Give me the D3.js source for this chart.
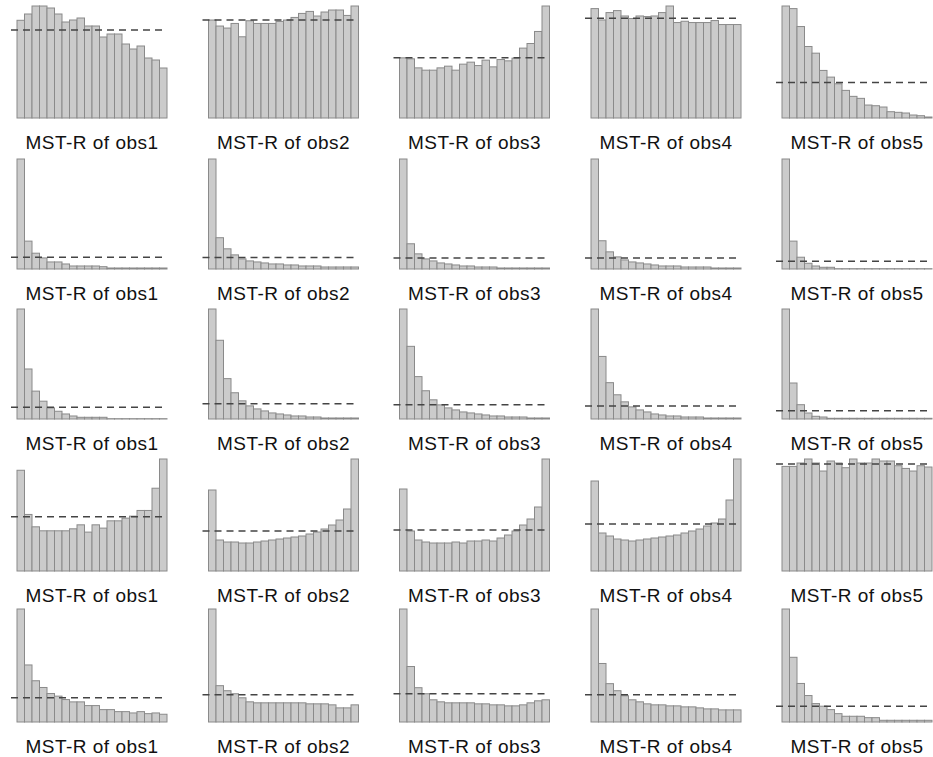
<!DOCTYPE html>
<html>
<head>
<meta charset="utf-8">
<script src="https://cdn.jsdelivr.net/npm/d3@7"></script>
<style>
  html, body { margin: 0; padding: 0; background: #ffffff; }
  svg { display: block; }
</style>
</head>
<body>
<svg id="chart" width="933" height="757"></svg>
<script>
// ---- Data (bin counts of MST rank histograms, 20 bins each) ----
const labels = ["MST-R of obs1", "MST-R of obs2", "MST-R of obs3", "MST-R of obs4", "MST-R of obs5"];

// Row 1
const r1c1 = [97.7, 104, 112, 112, 110, 104, 96, 98, 100, 92, 92, 81, 84, 84, 74, 69, 72, 60, 58, 50];
const r1c2 = [97.7, 91.7, 89.7, 94.3, 81, 97, 94.3, 94.3, 94.3, 96.3, 97.7, 100.3, 104.3, 106.3, 101.7, 105.7, 107.7, 107.7, 102.3, 111.7];
const r1c3 = [60, 59, 50, 47.7, 47.7, 50, 51.7, 47.7, 53.7, 55.7, 52.3, 57.7, 51, 58.3, 57, 59.7, 69.7, 74.3, 86.3, 111.7];
const r1c4 = [109.7, 98.3, 105.7, 107.7, 102.3, 99.7, 102.3, 101.7, 102.3, 105.7, 112.3, 95.7, 97, 95.7, 95.7, 95.7, 97.7, 93.7, 93.7, 93.7];
const r1c5 = [112.3, 109.7, 91.7, 71.7, 65, 47.7, 41, 34.3, 27.7, 21.7, 19.7, 13, 12.3, 11, 6.3, 5.7, 5, 3, 2.3, 1];

// Row 2
const r2c1 = [109.3, 27.7, 15.7, 11, 7, 7, 5, 3, 3, 3, 3, 2.3, 1, 1, 1, 1, 1, 1, 1, 1];
const r2c2 = [109, 31, 20, 14, 10, 8, 7, 6, 5, 5, 4, 4, 3, 3, 3, 2, 2, 2, 2, 2];
const r2c3 = [109, 25, 15, 10, 8, 6, 5, 4, 3, 3, 2, 2, 2, 1, 1, 1, 1, 1, 1, 1];
const r2c4 = [109, 28, 17, 12, 9, 7, 6, 5, 4, 3, 3, 3, 2, 2, 2, 2, 1, 1, 1, 1];
const r2c5 = [109.3, 27.7, 11.7, 5.7, 3, 1.7, 1.7, 0.3, 0.3, 0.3, 0.3, 0.3, 0.3, 0.3, 0.3, 0.3, 0.3, 0.3, 0.3, 0.3];

// Row 3
const r3c1 = [109.3, 49.7, 27.7, 17.7, 11, 7.7, 5, 3, 1.7, 1.7, 1.7, 1.7, 0.3, 0.3, 0.3, 0.3, 0.3, 0.3, 0.3, 0.3];
const r3c2 = [109, 78, 40, 26, 18, 13, 10, 8, 6, 5, 4, 3, 3, 2, 2, 1, 1, 1, 1, 1];
const r3c3 = [109, 72, 42, 28, 19, 14, 11, 9, 7, 6, 5, 4, 3, 3, 2, 2, 2, 1, 1, 1];
const r3c4 = [109, 62, 36, 24, 17, 12, 9, 7, 5, 4, 3, 3, 2, 2, 2, 1, 1, 1, 1, 1];
const r3c5 = [110, 36, 14.3, 6, 2.7, 2, 0.7, 0.7, 0.7, 0.7, 0.7, 0.7, 0.7, 0.7, 0.7, 0.7, 0.7, 0.7, 0.7, 0.7];

// Row 4
const r4c1 = [101, 56.7, 44.3, 40.3, 40.3, 40.3, 40.3, 42.3, 46.3, 39, 46.3, 43, 50.3, 50.3, 53, 55, 60.7, 60.7, 83, 112.3];
const r4c2 = [81, 31, 29, 29, 28, 28, 29, 30, 31, 32, 33, 34, 35, 37, 39, 42, 46, 51, 62, 112];
const r4c3 = [82, 40, 31, 29, 28, 28, 28, 29, 28, 30, 30, 31, 30, 33, 36, 40, 46, 52, 64, 112];
const r4c4 = [90, 38, 35, 32, 31, 30, 31, 32, 33, 34, 35, 36, 38, 40, 42, 45, 48, 52, 71, 112];
const r4c5 = [104.3, 104.3, 107.7, 111.7, 107.7, 99.7, 109.7, 107.7, 103, 111.7, 107.7, 107.7, 111.7, 109.7, 109.7, 105, 102.3, 99.7, 105, 103.7];

// Row 5
const r5c1 = [112.3, 56.7, 41, 34.3, 28.3, 25.7, 22.3, 20, 20, 16.3, 16.3, 12.3, 12.3, 10.3, 10.3, 9, 10.3, 8.3, 9, 7.7];
const r5c2 = [112, 36, 31, 28, 24, 20, 19, 19, 19, 19, 19, 19, 19, 18, 18, 18, 17, 14, 14, 17];
const r5c3 = [112, 55, 34, 28, 22, 20, 19, 19, 19, 19, 18, 18, 17, 17, 16, 16, 17, 19, 21, 22];
const r5c4 = [112, 58, 38, 31, 26, 22, 20, 18, 17, 17, 16, 16, 15, 15, 14, 13, 13, 12, 12, 12];
const r5c5 = [112.3, 64.3, 38.3, 26.3, 18.3, 15.7, 12.3, 8.3, 5.7, 5.7, 5.7, 4.3, 4.3, 1.7, 1.7, 1.7, 1.7, 1.7, 1.7, 1.7];

// Expected (uniform) count per bin, drawn as the dashed reference line
const expected1 = [88, 97.7, 60, 100, 35.7];
const expected2 = [11.7, 11.5, 11, 11, 7.7];
const expected3 = [11.7, 15, 14, 13, 8.3];
const expected4 = [54.3, 40, 41, 47, 106.7];
const expected5 = [24, 27, 28, 27, 15.7];

const grid = [
  [r1c1, r1c2, r1c3, r1c4, r1c5],
  [r2c1, r2c2, r2c3, r2c4, r2c5],
  [r3c1, r3c2, r3c3, r3c4, r3c5],
  [r4c1, r4c2, r4c3, r4c4, r4c5],
  [r5c1, r5c2, r5c3, r5c4, r5c5]
];
const expectedGrid = [expected1, expected2, expected3, expected4, expected5];

// ---- Layout ----
const rowTop = [6, 159, 309, 459, 609];
const rowBottom = [118, 269, 419, 571, 722];
const colLeft = [17, 208.5, 399.5, 591, 782];
const panelW = 150;

const svg = d3.select("#chart");

grid.forEach((row, r) => {
  row.forEach((vals, c) => {
    const g = svg.append("g");
    const bins = d3.range(vals.length);
    const x = d3.scaleBand().domain(bins).range([colLeft[c], colLeft[c] + panelW]).paddingInner(0).paddingOuter(0);
    const y = d3.scaleLinear().domain([0, d3.max(vals)]).range([rowBottom[r], rowTop[r]]);

    g.selectAll("rect")
      .data(vals)
      .join("rect")
      .attr("x", (d, i) => x(i))
      .attr("y", d => y(d))
      .attr("width", x.bandwidth())
      .attr("height", d => y(0) - y(d))
      .attr("fill", "#cbcbcb")
      .attr("stroke", "#8a8a8a")
      .attr("stroke-width", 1);

    const ey = y(expectedGrid[r][c]);
    g.append("line")
      .attr("x1", colLeft[c] - 6)
      .attr("x2", colLeft[c] + panelW)
      .attr("y1", ey)
      .attr("y2", ey)
      .attr("stroke", "#444444")
      .attr("stroke-width", 1.5)
      .attr("stroke-dasharray", "7,5");

    g.append("text")
      .attr("x", colLeft[c] + panelW / 2)
      .attr("y", rowBottom[r] + 31)
      .attr("text-anchor", "middle")
      .attr("font-family", "Liberation Sans, Arial, sans-serif")
      .attr("font-size", "19px")
      .attr("letter-spacing", "0.5px")
      .attr("fill", "#111111")
      .text(labels[c]);
  });
});
</script>
</body>
</html>
